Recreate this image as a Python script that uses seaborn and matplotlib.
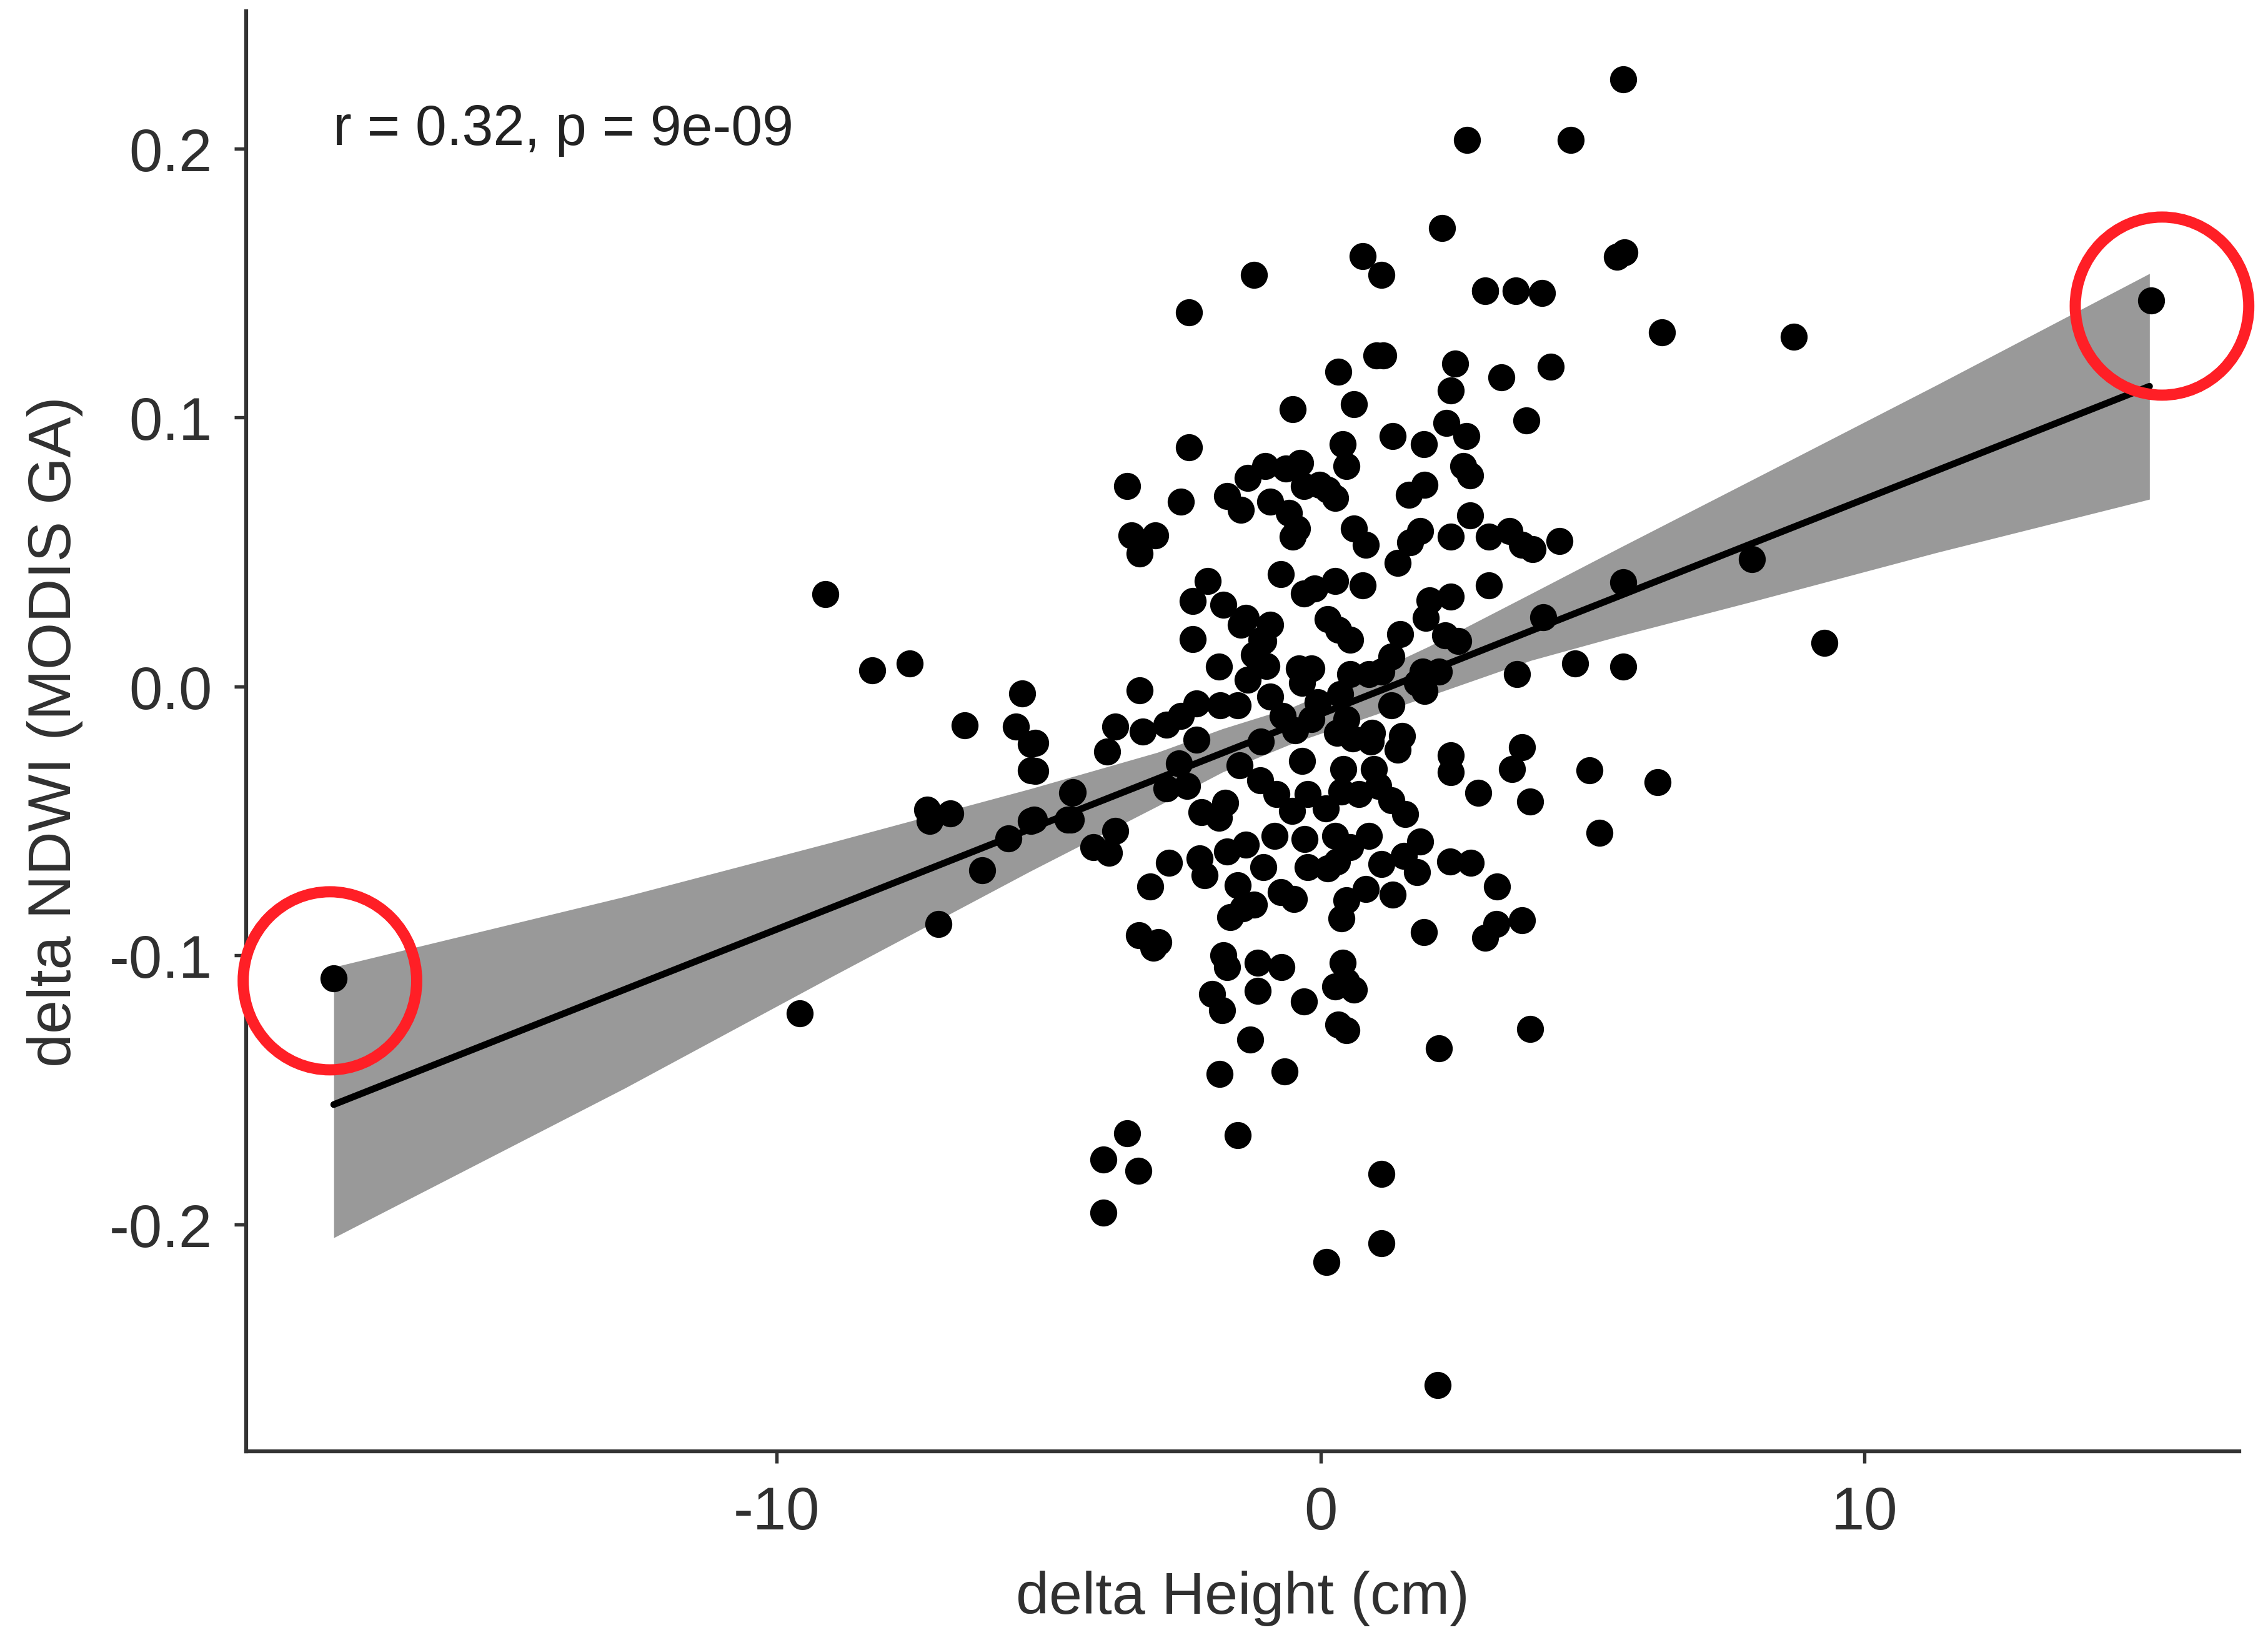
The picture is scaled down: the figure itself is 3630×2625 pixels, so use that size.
import pandas as pd
import matplotlib
matplotlib.use('Agg')
import matplotlib.pyplot as plt
from matplotlib.patches import Ellipse
import seaborn as sns

# delta height (cm)
height = [
    -1.22, 0.77, 1.12, 3.03, 3.59, -2.42, 1.03, 1.15, 0.33, 2.47, 3.32, 2.40, 3.79, -0.51, 0.62, 1.33,
    1.90, 2.32, 2.68, 0.41, 0.48, -2.42, -1.02, -1.34, -0.37, -0.64, -0.31, -0.02, 0.27, 0.13, 2.62, 2.75,
    1.91, 1.62, -3.55, -2.57, -1.72, -1.46, -0.93, -0.58, -0.43, -0.51, 0.62, 0.83, 2.75, 1.83, 1.65, 1.42,
    2.40, 3.10, 3.47, 3.70, 3.90, 4.39, -3.48, -3.04, -3.33, -2.07, -2.35, -1.79, -0.73, -0.31, -0.11, 0.27,
    0.77, 3.10, -1.37, -1.46, -0.93, 0.13, 0.54, 0.33, 2.00, 2.40, 1.94, 2.29, 2.53, 1.47, 1.30, -2.35,
    -1.08, -1.87, 3.61, -3.33, -5.48, -3.77, -3.27, -3.92, -2.83, -2.57, -2.28, -1.84, -1.52, -1.34, -0.99, -1.22,
    -1.05, -0.93, -0.69, -0.46, -1.10, -0.34, -0.40, -0.17, -0.34, -0.05, -0.17, 0.54, 0.89, 0.36, 0.48, 0.30,
    0.59, 0.95, 0.92, 1.30, 1.12, 1.50, 1.42, 1.91, 1.88, 2.18, 1.77, 2.40, 2.40, 3.52, 3.70, 2.90,
    3.85, -2.28, -2.60, -2.83, -2.45, -4.56, -4.59, -5.24, -5.24, -5.27, -3.77, -4.18, -3.89, -1.49, -1.11, -0.81,
    -0.52, -0.23, 0.10, 0.42, 0.39, 0.71, 0.98, 1.06, 1.30, 1.56, -1.75, -1.87, -2.19, -0.84, -1.37, -1.72,
    -0.29, -1.05, 0.89, 0.27, 0.54, -0.23, 0.13, 0.30, 1.83, 1.53, 1.12, 1.77, 1.33, 0.83, 0.48, 0.39,
    2.38, 2.76, 3.24, 1.90, 3.03, 3.23, 3.70, -2.79, -3.13, -2.22, -2.13, -1.52, -1.22, -1.66, -1.43, -0.73,
    -0.49, -3.34, -3.07, -2.98, -1.79, -1.72, -1.15, -0.72, -1.15, 0.41, 0.27, 0.62, 0.48, -1.99, -1.81, -0.30,
    0.33, 0.48, -1.29, 2.18, 3.85, -1.86, -0.66, -1.52, -3.56, -3.99, -3.35, -3.99, 1.12, 1.12, 0.11, 2.15,
    -9.57, -7.02, -6.22, -5.74, -7.23, -7.18, -6.81, -5.32, -4.65, -4.55, -5.60, -5.32, -5.32, -6.54, -7.55, -8.24,
    -9.10, -18.14, 15.27, 8.70, 6.28, 5.45, 5.59, 5.56, 4.60, 2.69, 2.23, 4.07, 3.59, 3.03, 4.23, 5.56,
    4.10, 4.68, 5.56, 9.26, 7.93, 4.95, 5.13, 6.20,
]
# delta NDWI, same order
ndwi = [
    0.153, 0.160, 0.153, 0.147, 0.147, 0.139, 0.123, 0.123, 0.117, 0.120, 0.115, 0.110, 0.099, 0.103, 0.105, 0.093,
    0.090, 0.098, 0.093, 0.090, 0.082, 0.089, 0.082, 0.0775, 0.083, 0.081, 0.0744, 0.0749, 0.0702, 0.073, 0.082, 0.0785,
    0.0749, 0.0713, 0.0744, 0.0687, 0.0707, 0.0656, 0.0687, 0.0645, 0.0588, 0.0557, 0.0588, 0.0526, 0.0635, 0.0578, 0.0536, 0.0459,
    0.0557, 0.0557, 0.0578, 0.0526, 0.051, 0.054, 0.0562, 0.0562, 0.0495, 0.0391, 0.0317, 0.0303, 0.0417, 0.0345, 0.0365, 0.0391,
    0.0376, 0.0376, 0.0256, 0.023, 0.023, 0.0251, 0.0173, 0.021, 0.0319, 0.0334, 0.0256, 0.0189, 0.0168, 0.0194, 0.0111, 0.0176,
    0.0174, 0.0075, 0.0045, -0.0014, -0.0027, -0.015, -0.0168, -0.0243, -0.0142, -0.011, -0.0064, -0.0069, -0.0069, 0.0024, 0.0076, 0.0117,
    0.0169, -0.0038, -0.011, -0.0162, -0.0204, -0.0277, 0.0066, 0.0066, 0.0014, -0.0059, -0.0121, 0.0045, 0.0045, -0.0028, -0.0121, -0.0173,
    -0.0193, -0.0173, -0.0204, -0.0069, 0.0055, -0.0183, -0.0235, -0.0017, 0.0055, 0.0055, 0.0014, -0.0256, -0.0318, -0.0308, -0.0225, -0.0396,
    -0.0427, -0.0199, -0.0287, -0.038, -0.037, -0.0396, -0.0494, -0.0209, -0.0313, -0.0494, -0.0536, -0.0598, -0.0619, -0.0292, -0.0349, -0.0401,
    -0.0463, -0.0401, -0.0453, -0.0308, -0.0391, -0.0401, -0.0308, -0.037, -0.0422, -0.0474, -0.0432, -0.0489, -0.0468, -0.0556, -0.0587, -0.0613,
    -0.0567, -0.0671, -0.0556, -0.0556, -0.0598, -0.0671, -0.0676, -0.065, -0.0577, -0.0629, -0.066, -0.0691, -0.0774, -0.0753, -0.0795, -0.0862,
    -0.065, -0.0655, -0.0743, -0.0914, -0.0935, -0.0883, -0.0868, -0.0655, -0.0743, -0.0639, -0.0702, -0.0738, -0.081, -0.0857, -0.0826, -0.0764,
    -0.079, -0.0925, -0.0971, -0.095, -0.1, -0.1044, -0.1028, -0.1044, -0.1132, -0.1028, -0.1116, -0.1127, -0.1096, -0.1142, -0.1204, -0.117,
    -0.1256, -0.1277, -0.1313, -0.1345, -0.1272, -0.1441, -0.143, -0.1667, -0.1661, -0.1758, -0.1801, -0.1957, -0.1812, -0.207, -0.214, -0.2597,
    -0.1215, -0.0882, -0.0683, -0.0565, -0.0457, -0.05, -0.0473, -0.05, -0.0495, -0.0392, -0.015, -0.0215, -0.0312, -0.0145, 0.0086, 0.0059,
    0.0344, -0.1086, 0.1435, 0.1301, 0.1317, 0.1597, 0.1613, 0.2258, 0.2032, 0.2032, 0.1704, 0.1462, 0.1473, 0.1473, 0.1188, 0.0387,
    0.0258, 0.0086, 0.0075, 0.0161, 0.0473, -0.0312, -0.0543, -0.0355,
]

# fitted line and its confidence band
fit_x = [-18.14, -12.79, -9.0, -5.33, -3.0, -1.8, -0.5, 1.0, 2.0, 3.87, 5.5, 8.0, 11.33, 15.24]
fit_y = [-0.1554, -0.1126, -0.0823, -0.0529, -0.0343, -0.0247, -0.0143, -0.0023, 0.0057, 0.0207, 0.0337, 0.0537, 0.0803, 0.1116]
band_hi = [-0.1043, -0.0781, -0.058, -0.038, -0.0245, -0.0157, -0.0075, 0.0055, 0.015, 0.0345, 0.0516, 0.0775, 0.1121, 0.1535]
band_lo = [-0.2049, -0.1493, -0.108, -0.0686, -0.0445, -0.0318, -0.021, -0.0105, -0.0035, 0.0097, 0.0188, 0.0319, 0.0498, 0.0696]

x_ticks = [-10, 0, 10]
x_labels = ['-10', '0', '10']
y_ticks = [-0.2, -0.1, 0.0, 0.1, 0.2]
y_labels = ['-0.2', '-0.1', '0.0', '0.1', '0.2']

df = pd.DataFrame({'height': height, 'ndwi': ndwi})
fit = pd.DataFrame({'x': fit_x, 'y': fit_y})

sns.set_theme(style='ticks')
plt.rcParams['font.family'] = ['Liberation Sans', 'DejaVu Sans']

fig = plt.figure(figsize=(12.1, 8.7533), dpi=300)
ax = fig.add_axes([394 / 3630, 1 - 2324 / 2626, (3584 - 394) / 3630, (2324 - 19) / 2626])

# band first, points and line on top
ax.fill_between(fit_x, band_lo, band_hi, color='#999999', linewidth=0, zorder=1)
sns.scatterplot(data=df, x='height', y='ndwi', color='black', s=108, linewidth=0, zorder=2, ax=ax)
sns.lineplot(data=fit, x='x', y='y', color='black', linewidth=2.6, errorbar=None, zorder=3, ax=ax)

# red circles around the two extreme points
for cx, cy in [(-18.21, -0.1094), (15.47, 0.1414)]:
    ax.add_patch(Ellipse((cx, cy), 3.19, 0.0662, fill=False, edgecolor='#ff1f26', linewidth=4.3, zorder=4, clip_on=False))

ax.text(-18.15, 0.2069, 'r = 0.32, p = 9e-09', fontsize=21.5, color='#222222', va='center', ha='left')

ax.set_xlim(-19.75, 16.89)
ax.set_ylim(-0.2843, 0.251)
ax.set_xticks(x_ticks, x_labels)
ax.set_yticks(y_ticks, y_labels)
ax.set_xlabel('delta Height (cm)', fontsize=22.9, color='#303030', labelpad=11)
ax.set_ylabel('delta NDWI (MODIS GA)', fontsize=23.3, color='#303030', labelpad=10)
ax.tick_params(length=4.5, width=1.3, color='#333333', labelsize=23, labelcolor='#303030', pad=8.5)
for side in ['left', 'bottom']:
    ax.spines[side].set_linewidth(1.5)
    ax.spines[side].set_color('#333333')
sns.despine(ax=ax)

fig.savefig('out.png', dpi=300)
